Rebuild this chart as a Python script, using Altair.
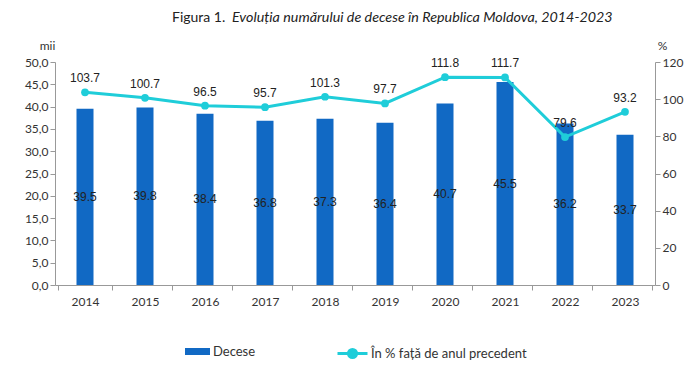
import altair as alt
import pandas as pd

years = ["2014", "2015", "2016", "2017", "2018", "2019", "2020", "2021", "2022", "2023"]
deaths = [39.5, 39.8, 38.4, 36.8, 37.3, 36.4, 40.7, 45.5, 36.2, 33.7]
pct = [103.7, 100.7, 96.5, 95.7, 101.3, 97.7, 111.8, 111.7, 79.6, 93.2]
left_ticks = [0, 5, 10, 15, 20, 25, 30, 35, 40, 45, 50]
right_ticks = [0, 20, 40, 60, 80, 100, 120]

bar_name = "Decese"
line_name = "În % față de anul precedent"
title_a = "Figura 1."
title_b = "Evoluția numărului de decese în Republica Moldova, 2014-2023"

BLUE = "#1169c4"
CYAN = "#1fcdd9"
FONT = "Lato"
NUMFONT = "Liberation Sans"

df = pd.DataFrame({"year": years, "deaths": deaths, "pct": pct})
df["half"] = df["deaths"] / 2
df["s1"] = bar_name
df["s2"] = line_name
df["dlab"] = [f"{v:.1f}" for v in deaths]
df["plab"] = [f"{v:.1f}" for v in pct]

xaxis = alt.Axis(
    title=None, labelAngle=0, tickBand="extent", labelFont=FONT, labelFontSize=12,
    labelColor="#333", domainColor="#999", tickColor="#999", tickSize=5,
    labelPadding=6,
)
xenc = alt.X("year:N", sort=years, axis=xaxis)

laxis = alt.Axis(
    values=left_ticks,
    labelExpr="replace(format(datum.value, '.1f'), '.', ',')",
    labelOverlap=False, labelFlush=False,
    grid=False, labelFont=FONT, labelFontSize=12, labelColor="#333",
    domainColor="#999", tickColor="#999", tickSize=5, orient="left",
    title="mii", titleAngle=0, titleX=-8, titleY=-10, titleAlign="center",
    titleBaseline="bottom", titleFont=FONT, titleFontSize=12,
    titleFontWeight="normal", titleColor="#333",
)
raxis = alt.Axis(
    orient="right", values=right_ticks, grid=False,
    labelOverlap=False, labelFlush=False,
    labelFont=FONT, labelFontSize=12, labelColor="#333",
    domainColor="#999", tickColor="#999", tickSize=5,
    title="%", titleAngle=0, titleX=7, titleY=-10, titleAlign="center",
    titleBaseline="bottom", titleFont=FONT, titleFontSize=12,
    titleFontWeight="normal", titleColor="#333",
)

yleft = alt.Scale(domain=[0, 50])
bars = alt.Chart(df).mark_bar(size=17).encode(
    x=xenc,
    y=alt.Y("deaths:Q", scale=yleft, axis=laxis),
    color=alt.Color(
        "s1:N", scale=alt.Scale(domain=[bar_name], range=[BLUE]),
        legend=alt.Legend(
            title=None, orient="none", legendX=130, legendY=277,
            symbolType="M-1,-0.28H1V0.28H-1Z", symbolSize=625,
            labelFont=FONT, labelFontSize=13, labelColor="#333",
            symbolStrokeWidth=0, labelOffset=3,
        ),
    ),
)
bar_text = alt.Chart(df).mark_text(font=NUMFONT, fontSize=12, color="#222").encode(
    x=xenc,
    y=alt.Y("half:Q", scale=yleft, axis=laxis),
    text="dlab:N",
)

tdf = pd.DataFrame({"a": [title_a], "b": [title_b]})
t1 = alt.Chart(tdf).mark_text(
    font=FONT, fontSize=14, color="#222", align="left", baseline="middle"
).encode(x=alt.value(117), y=alt.value(-44), text="a:N")
t2 = alt.Chart(tdf).mark_text(
    font=FONT, fontSize=14.3, color="#222", align="left", baseline="middle", fontStyle="italic"
).encode(x=alt.value(177), y=alt.value(-44), text="b:N")

left = alt.layer(bars, bar_text, t1, t2)

yright = alt.Scale(domain=[0, 120])
line = alt.Chart(df).mark_line(strokeWidth=3).encode(
    x=xenc,
    y=alt.Y("pct:Q", scale=yright, axis=raxis),
    stroke=alt.Stroke(
        "s2:N", scale=alt.Scale(domain=[line_name], range=[CYAN]),
        legend=alt.Legend(
            title=None, orient="none", legendX=281, legendY=275,
            symbolType="M-1,0H1M0.27,0A0.27,0.27 0 1,1 -0.27,0A0.27,0.27 0 1,1 0.27,0Z",
            symbolSize=900, symbolFillColor=CYAN, symbolStrokeWidth=3,
            labelFont=FONT, labelFontSize=13, labelColor="#333", labelOffset=2,
        ),
    ),
)
pts = alt.Chart(df).mark_point(filled=True, size=60, color=CYAN, opacity=1).encode(
    x=xenc,
    y=alt.Y("pct:Q", scale=yright, axis=raxis),
)
line_text = alt.Chart(df).mark_text(font=NUMFONT, fontSize=12, color="#222", dy=-14).encode(
    x=xenc,
    y=alt.Y("pct:Q", scale=yright, axis=raxis),
    text="plab:N",
)
right = alt.layer(line, pts, line_text)

chart = (
    alt.layer(left, right)
    .resolve_scale(y="independent", color="independent", stroke="independent")
    .properties(
        width=600, height=223,
        autosize=alt.AutoSizeParams(type="none"),
        padding={"left": 47, "top": 54, "right": 32, "bottom": 78},
    )
    .configure_view(stroke=None)
    .configure_axis(labelOverlap=False)
)

chart.save("out.html", embed_options={"renderer": "svg", "actions": False})
